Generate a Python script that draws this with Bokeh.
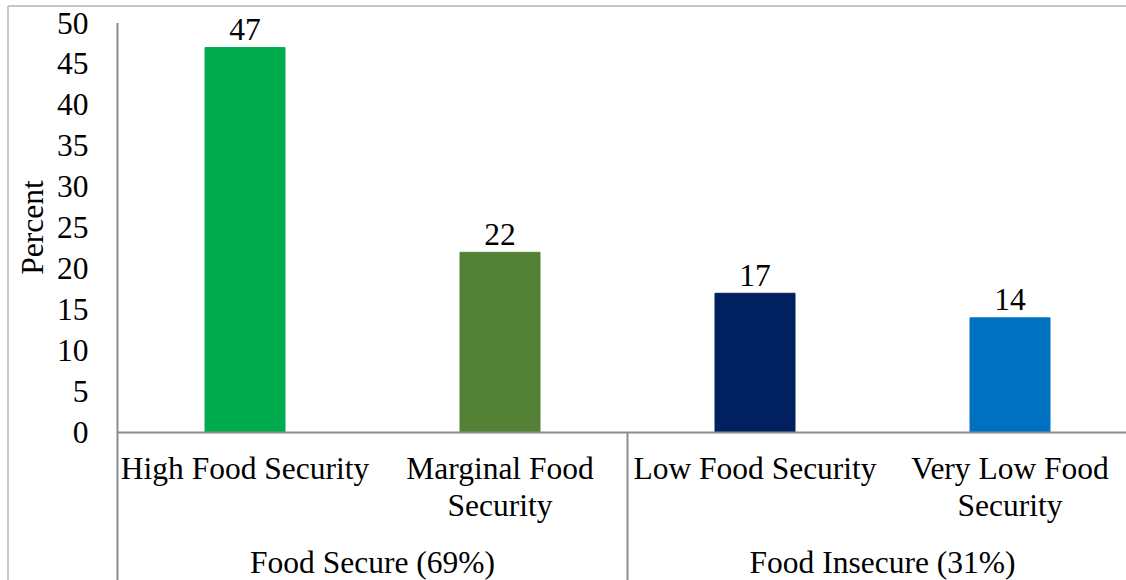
from bokeh.plotting import figure
from bokeh.models import Range1d, ColumnDataSource
from bokeh.core.properties import value
from bokeh.embed import file_html
from bokeh.resources import INLINE

# ---- data ----
categories = ["High Food Security", "Marginal Food\nSecurity", "Low Food Security", "Very Low Food\nSecurity"]
values = [47, 22, 17, 14]
bar_colors = ["#00AC4E", "#538135", "#002060", "#0070C0"]
groups = ["Food Secure (69%)", "Food Insecure (31%)"]
group_sizes = [2, 2]
y_ticks = [0, 5, 10, 15, 20, 25, 30, 35, 40, 45, 50]
y_label = "Percent"

FONT = "Liberation Serif"
FS = "31.5px"
AXIS_GRAY = "#8c8c8c"

# layout geometry (pixels)
W, H = 1126, 580
left_px = 117
zero_px = 432
cat_px = 255
px_per_unit = (zero_px - 22.5) / 50.0

def xpx(px):
    return (px - left_px) / cat_px

def ypx(py):
    return (zero_px - py) / px_per_unit

x_start, x_end = xpx(0), xpx(W)
y_start, y_end = ypx(H), ypx(0)

p = figure(width=W, height=H, output_backend="svg", toolbar_location=None,
           x_range=Range1d(x_start, x_end), y_range=Range1d(y_start, y_end),
           x_axis_location=None, y_axis_location=None,
           min_border_left=0, min_border_right=0, min_border_top=0, min_border_bottom=0)
p.outline_line_color = None
p.grid.visible = False
p.background_fill_color = "white"
p.border_fill_color = "white"

def txt(x, y, text, **kw):
    args = dict(text_align="center", text_baseline="middle", text_font=value(FONT),
                text_font_size=FS, text_color="black")
    args.update(kw)
    p.text(x=x, y=y, text=text, **args)

xs = [i + 0.5 for i in range(len(categories))]
src = ColumnDataSource(dict(x=xs, top=values, color=bar_colors,
                            lbl=[str(v) for v in values]))
p.vbar(x="x", top="top", bottom=0, width=80 / cat_px, color="color", source=src)

# value labels
p.text(x="x", y="top", text="lbl", source=src, text_align="center",
       text_baseline="middle", y_offset=-18, text_font=value(FONT),
       text_font_size=FS, text_color="black")

# y tick labels
txt([0] * len(y_ticks), y_ticks, [str(t) for t in y_ticks], text_align="right", x_offset=-29)

# y label
txt([xpx(31.5)], [ypx(227)], [y_label], angle=1.5707963)

# category labels (two lines)
line1 = [c.split("\n")[0] for c in categories]
line2 = [c.split("\n")[1] if "\n" in c else "" for c in categories]
txt(xs, [ypx(468)] * len(xs), line1)
txt(xs, [ypx(505)] * len(xs), line2)

# group labels and separators
gx, bounds, start = [], [], 0
for n in group_sizes:
    gx.append(start + n / 2)
    start += n
    bounds.append(start)
txt(gx, [ypx(562)] * len(gx), groups)

# axis lines
p.segment(x0=[0], y0=[y_start], x1=[0], y1=[y_ticks[-1]], line_color=AXIS_GRAY, line_width=2)
p.segment(x0=[0], y0=[0], x1=[len(categories)], y1=[0], line_color=AXIS_GRAY, line_width=2)
p.segment(x0=bounds, y0=[y_start] * len(bounds), x1=bounds, y1=[0] * len(bounds),
          line_color=AXIS_GRAY, line_width=2)

# outer light border (top and left)
bx, by = xpx(7.5), ypx(5.5)
p.segment(x0=[bx, bx], y0=[by, by], x1=[bx, x_end + 1], y1=[y_start - 5, by],
          line_color="#c6c6c6", line_width=2)

open("out.html", "w").write(file_html(p, INLINE))
